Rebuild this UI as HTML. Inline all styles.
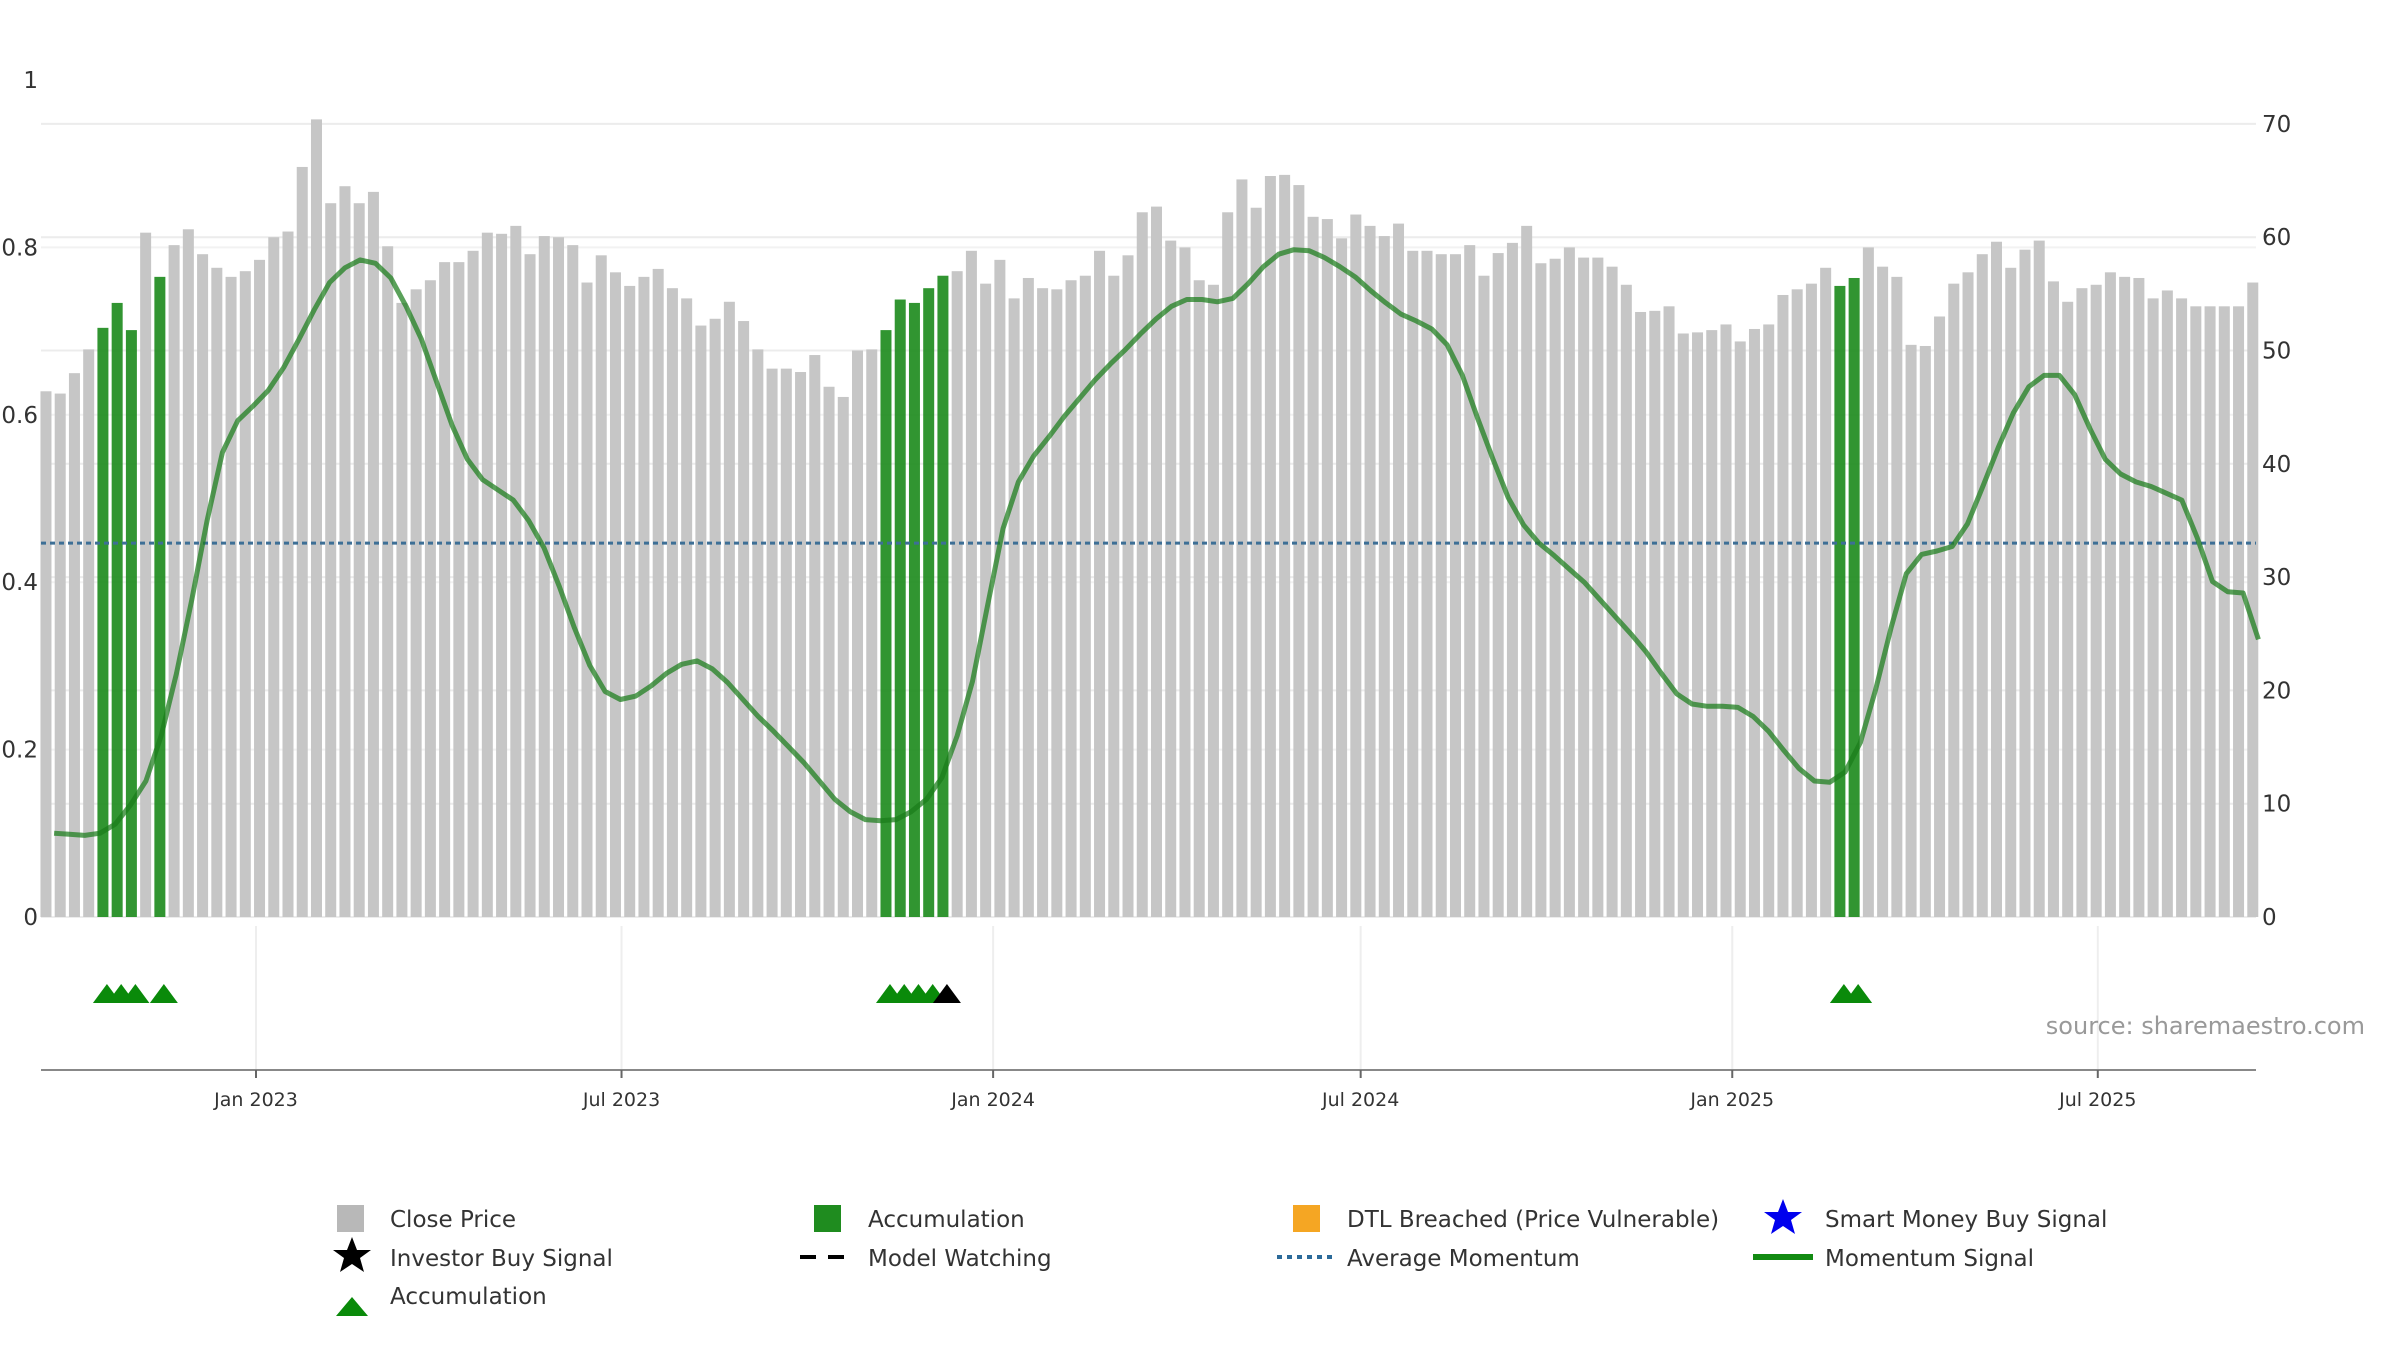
<!DOCTYPE html>
<html><head><meta charset="utf-8">
<style>
html,body{margin:0;padding:0;background:#fff;}
svg{display:block;font-family:"DejaVu Sans","Liberation Sans",sans-serif;}
</style></head>
<body>
<svg id="chart" width="2400" height="1350" viewBox="0 0 2400 1350" xmlns="http://www.w3.org/2000/svg">
<g id="grid"></g>
<g id="bars"></g>
<g id="avg"></g>
<g id="line"></g>
<g id="axes"></g>
<g id="markers"></g>
<text x="2365" y="1034" text-anchor="end" font-size="24" fill="#999">source: sharemaestro.com</text>
<g id="legend">
  <rect x="337" y="1205" width="27" height="27" fill="#b8b8b8"/>
  <text x="390" y="1227" font-size="23" fill="#333">Close Price</text>
  <rect x="814" y="1205" width="27" height="27" fill="#1f8c1f"/>
  <text x="868" y="1227" font-size="23" fill="#333">Accumulation</text>
  <rect x="1293" y="1205" width="27" height="27" fill="#f5a623"/>
  <text x="1347" y="1227" font-size="23" fill="#333">DTL Breached (Price Vulnerable)</text>
  <polygon points="1783,1199 1788,1212 1802,1212 1791,1220 1795,1234 1783,1226 1771,1234 1775,1220 1764,1212 1778,1212" fill="#0000ee"/>
  <text x="1825" y="1227" font-size="23" fill="#333">Smart Money Buy Signal</text>
  <polygon points="352,1237 357,1250 371,1250 360,1258 364,1272 352,1264 340,1272 344,1258 333,1250 347,1250" fill="#000"/>
  <text x="390" y="1266" font-size="23" fill="#333">Investor Buy Signal</text>
  <line x1="800" y1="1257" x2="855" y2="1257" stroke="#000" stroke-width="4" stroke-dasharray="16,12"/>
  <text x="868" y="1266" font-size="23" fill="#333">Model Watching</text>
  <line x1="1277" y1="1257" x2="1335" y2="1257" stroke="#2b6a99" stroke-width="4" stroke-dasharray="5,5"/>
  <text x="1347" y="1266" font-size="23" fill="#333">Average Momentum</text>
  <line x1="1753" y1="1257" x2="1813" y2="1257" stroke="#128a12" stroke-width="6"/>
  <text x="1825" y="1266" font-size="23" fill="#333">Momentum Signal</text>
  <polygon points="336,1316 352,1297 368,1316" fill="#0a8a0a"/>
  <text x="390" y="1304" font-size="23" fill="#333">Accumulation</text>
</g>
</svg>
<script>
const closePrices = [46.4,46.2,48,50.1,52,54.2,51.8,60.4,56.5,59.3,60.7,58.5,57.3,56.5,57,58,60,60.5,66.2,70.4,63,64.5,63,64,59.2,54.2,55.4,56.2,57.8,57.8,58.8,60.4,60.3,61,58.5,60.1,60,59.3,56,58.4,56.9,55.7,56.5,57.2,55.5,54.6,52.2,52.8,54.3,52.6,50.1,48.4,48.4,48.1,49.6,46.8,45.9,50,50.1,51.8,54.5,54.2,55.5,56.6,57,58.8,55.9,58,54.6,56.4,55.5,55.4,56.2,56.6,58.8,56.6,58.4,62.2,62.7,59.7,59.1,56.2,55.8,62.2,65.1,62.6,65.4,65.5,64.6,61.8,61.6,59.9,62,61,60.1,61.2,58.8,58.8,58.5,58.5,59.3,56.6,58.6,59.5,61,57.7,58.1,59.1,58.2,58.2,57.4,55.8,53.4,53.5,53.9,51.5,51.6,51.8,52.3,50.8,51.9,52.3,54.9,55.4,55.9,57.3,55.7,56.4,59.1,57.4,56.5,50.5,50.4,53,55.9,56.9,58.5,59.6,57.3,58.9,59.7,56.1,54.3,55.5,55.8,56.9,56.5,56.4,54.6,55.3,54.6,53.9,53.9,53.9,53.9,56];
const accumulationBars = [5,6,7,9,60,61,62,63,64,127,128];
const accumulationTriangles = [5,6,7,9,60,61,62,63,127,128];
const investorBuyTriangles = [64];
const momentum = [7.4,7.3,7.2,7.4,8.2,9.9,12,16,21.5,28,35,41,43.8,45.1,46.5,48.5,51,53.6,56,57.3,58,57.7,56.4,53.9,51,47.2,43.4,40.4,38.6,37.7,36.8,35,32.6,29.2,25.5,22.2,19.9,19.2,19.5,20.4,21.5,22.3,22.6,21.9,20.7,19.2,17.7,16.4,15,13.6,12,10.4,9.3,8.6,8.5,8.6,9.3,10.4,12.3,16,20.8,27.6,34.3,38.4,40.7,42.4,44.2,45.8,47.4,48.8,50.1,51.5,52.8,53.9,54.5,54.5,54.3,54.6,55.9,57.4,58.5,58.9,58.8,58.2,57.4,56.5,55.3,54.2,53.2,52.6,51.9,50.5,47.8,44,40.4,37,34.6,33,31.9,30.7,29.5,28,26.5,25,23.4,21.5,19.7,18.8,18.6,18.6,18.5,17.7,16.4,14.7,13.1,12,11.9,12.8,15.4,20.1,25.5,30.3,32,32.3,32.7,34.7,38,41.4,44.5,46.8,47.8,47.8,46.1,43.1,40.4,39.1,38.4,38,37.4,36.8,33.5,29.6,28.7,28.6,24.5];
const averageMomentum = 33;
const rightTicks = [0,10,20,30,40,50,60,70];
const leftTicks = [0,0.2,0.4,0.6,0.8,1];
const leftTickLabels = ["0","0.2","0.4","0.6","0.8","1"];
const dateTickDays = [0,181,365,547,731,912];
const dateTickLabels = ["Jan 2023","Jul 2023","Jan 2024","Jul 2024","Jan 2025","Jul 2025"];
const barStartDay = -104, barStepDays = 7.05;
const momStartDay = -100, momStepDays = 7.58;

const NS = "http://www.w3.org/2000/svg";
const X0 = 256, PX_DAY = 2.0195, PL = 41, PR = 2256;
const xDay = d => X0 + d * PX_DAY;
const yR = v => 917 - v * 11.33;
const yL = v => 917 - v * 837;
function mk(parent, tag, attrs){const e=document.createElementNS(NS,tag);for(const k in attrs)e.setAttribute(k,attrs[k]);parent.appendChild(e);return e;}

const grid = document.getElementById('grid');
rightTicks.forEach(t=>{const l=mk(grid,'line',{x1:PL,x2:PR,y1:yR(t),y2:yR(t),stroke:'#ececec','stroke-width':2});

});
leftTicks.forEach(t=>{if(t===0||t===1)return;const l=mk(grid,'line',{x1:PL,x2:PR,y1:yL(t),y2:yL(t),stroke:'#f2f2f2','stroke-width':2});

});
dateTickDays.forEach(d=>{const l=mk(grid,'line',{x1:xDay(d),x2:xDay(d),y1:926,y2:1070,stroke:'#eeeeee','stroke-width':2});

});

const bars = document.getElementById('bars');
closePrices.forEach((v,i)=>{
  const idx=i+1, acc=accumulationBars.includes(idx);
  const cx=xDay(barStartDay+i*barStepDays);
  const r=mk(bars,'rect',{x:cx-5.5,y:yR(v),width:11,height:917-yR(v),fill:acc?'#1f8c1f':'#c6c6c6','fill-opacity':acc?0.92:1});
  
  
});

const avg=document.getElementById('avg');
const al=mk(avg,'line',{x1:PL,x2:PR,y1:yR(averageMomentum),y2:yR(averageMomentum),stroke:'#3d6f96','stroke-width':3,'stroke-dasharray':'5,4'});



const lg=document.getElementById('line');
const pts=momentum.map((v,i)=>xDay(momStartDay+i*momStepDays).toFixed(1)+','+yR(v).toFixed(1)).join(' ');
const pl=mk(lg,'polyline',{points:pts,fill:'none',stroke:'#1a7d1a','stroke-opacity':0.72,'stroke-width':5,'stroke-linejoin':'round'});



const ax=document.getElementById('axes');
const base=mk(ax,'line',{x1:PL,x2:PR,y1:1070,y2:1070,stroke:'#888','stroke-width':2});


dateTickDays.forEach((d,i)=>{
  const tk=mk(ax,'line',{x1:xDay(d),x2:xDay(d),y1:1070,y2:1078,stroke:'#666','stroke-width':2});
  
  
  const t=mk(ax,'text',{x:xDay(d),y:1106,'text-anchor':'middle','font-size':19,fill:'#333'});
  t.textContent=dateTickLabels[i];
  
  
});
rightTicks.forEach(v=>{
  const t=mk(ax,'text',{x:2262,y:yR(v)+8,'font-size':23,fill:'#333'});
  t.textContent=String(v);
  
  
});
leftTicks.forEach((v,i)=>{
  const t=mk(ax,'text',{x:38,y:yL(v)+8,'text-anchor':'end','font-size':23,fill:'#333'});
  t.textContent=leftTickLabels[i];
  
  
});

const mkr=document.getElementById('markers');
function tri(idx,color,name){
  const cx=xDay(barStartDay+(idx-1)*barStepDays)+4;
  const p=mk(mkr,'polygon',{points:`${cx-14},1003 ${cx},984 ${cx+14},1003`,fill:color});
  
  
}
accumulationTriangles.forEach(i=>tri(i,'#0a8a0a','accumulation-triangle'));
investorBuyTriangles.forEach(i=>tri(i,'#000','investor-buy-triangle'));
</script>
</body></html>
